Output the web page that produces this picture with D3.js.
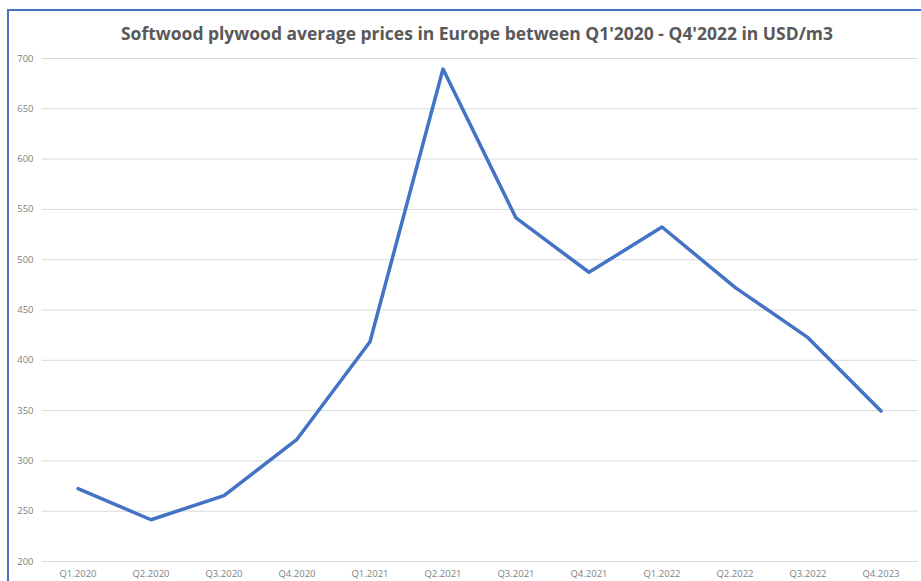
<!DOCTYPE html>
<html><head><meta charset="utf-8">
<script src="https://cdn.jsdelivr.net/npm/d3@7"></script>
<style>body{margin:0;background:#fff;}svg{display:block;}</style>
</head><body>
<svg id="c" width="921" height="581"></svg>
<script>
const categories = ["Q1.2020","Q2.2020","Q3.2020","Q4.2020","Q1.2021","Q2.2021","Q3.2021","Q4.2021","Q1.2022","Q2.2022","Q3.2022","Q4.2023"];
const prices = [272, 241, 265, 321, 418, 689, 541, 487, 532, 472, 422, 349];
const yTicks = [200,250,300,350,400,450,500,550,600,650,700];
const title = "Softwood plywood average prices in Europe between Q1'2020 - Q4'2022 in USD/m3";

const svg = d3.select("#c");
// chart border
svg.append("rect").attr("x",8).attr("y",10).attr("width",930).attr("height",600)
  .attr("fill","#fff").attr("stroke","#4472C4").attr("stroke-width",2);

const x = d3.scaleBand().domain(categories).range([41.5, 917.5]);
const y = d3.scaleLinear().domain([200,700]).range([561, 58]);

// gridlines
const gy = svg.append("g").attr("transform","translate(41.5,0)")
  .call(d3.axisLeft(y).tickValues(yTicks).tickSize(-876).tickPadding(8).tickFormat(d3.format("d")));
gy.select(".domain").remove();
gy.selectAll(".tick line").attr("stroke","#d9d9d9").attr("stroke-width",1);
gy.selectAll(".tick text").attr("fill","#7f7f7f").style("font-family","'Open Sans', 'Liberation Sans', sans-serif").style("font-size","9.5px");

const gx = svg.append("g").attr("transform","translate(0,561)")
  .call(d3.axisBottom(x).tickSize(0).tickPadding(9));
gx.select(".domain").remove();
gx.selectAll(".tick text").attr("fill","#7f7f7f").style("font-family","'Open Sans', 'Liberation Sans', sans-serif").style("font-size","9.5px");

const line = d3.line().x((d,i)=>x(categories[i]) + x.bandwidth()/2).y(d=>y(d));
svg.append("path").datum(prices).attr("d",line)
  .attr("fill","none").attr("stroke","#4472C4").attr("stroke-width",3.5)
  .attr("stroke-linejoin","round").attr("stroke-linecap","round");

svg.append("text").attr("x",477).attr("y",40).attr("text-anchor","middle")
  .attr("fill","#595959").style("font-family","'Open Sans', 'Liberation Sans', sans-serif")
  .style("font-weight","bold").style("font-size","18px")
  .attr("textLength",712).attr("lengthAdjust","spacingAndGlyphs")
  .text(title);
</script>
</body></html>
